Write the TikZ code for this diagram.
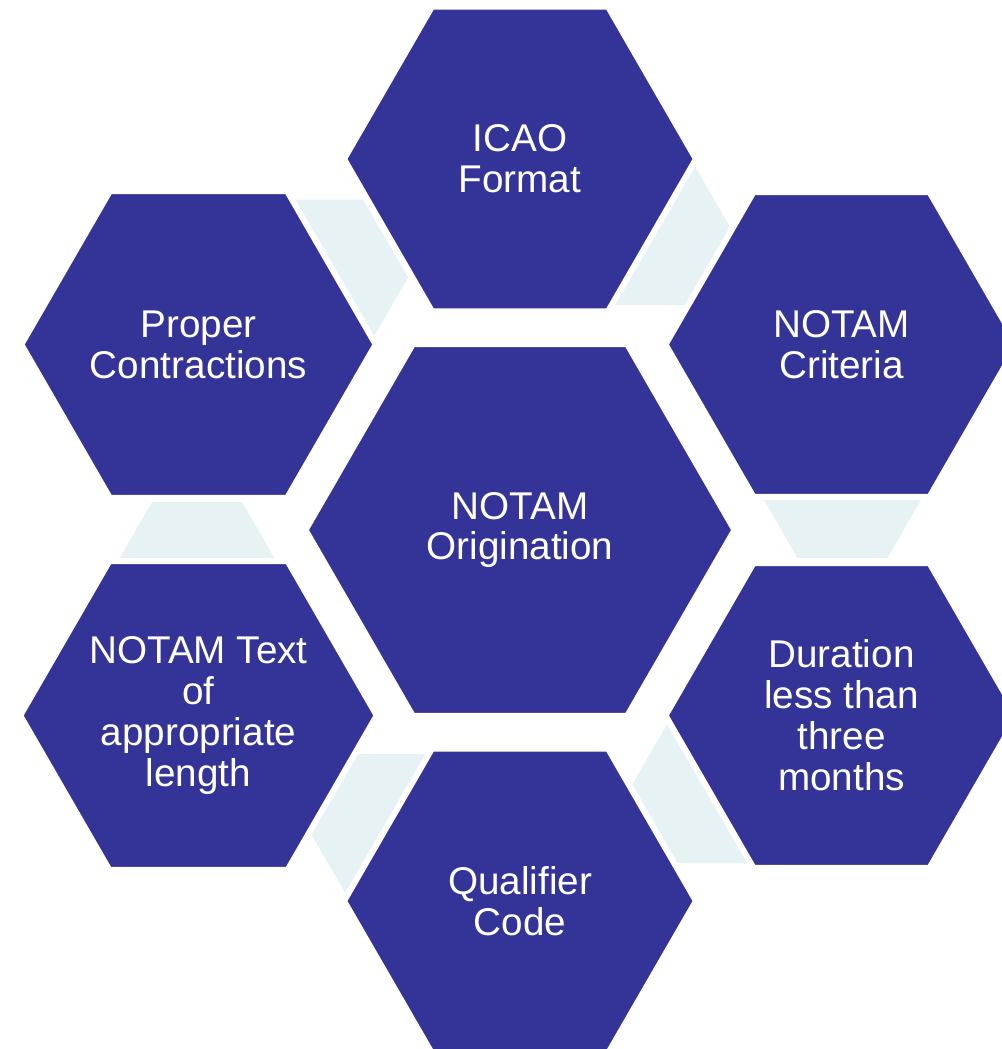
\documentclass[tikz,border=0pt]{standalone}
\usepackage{fontspec}
\setmainfont{Liberation Sans}
\usetikzlibrary{shapes.geometric}
\definecolor{hexblue}{RGB}{52,52,152}
\definecolor{linkcyan}{RGB}{230,242,244}
\begin{document}
\begin{tikzpicture}[
  hexa/.style={regular polygon, regular polygon sides=6, fill=hexblue,
               draw=white, line width=0.12cm, minimum size=#1, inner sep=0pt,
               text=white, align=center, font=\fontsize{22}{23.3}\selectfont},
  hexa/.default=7.04cm,
  link/.style={regular polygon, regular polygon sides=6, fill=linkcyan,
               minimum size=3.6cm, inner sep=0pt}
]
  \useasboundingbox (0,0) rectangle (20.04,-20.98);

  % Links between the outer cells
  \node[link] (l1) at (16.85,-9.60) {};
  \node[link] (l2) at (12.80,-4.54) {};
  \node[link] (l3) at (6.36,-5.55) {};
  \node[link] (l4) at (3.94,-11.60) {};
  \node[link] (l5) at (8.00,-16.64) {};
  \node[link] (l6) at (14.44,-15.70) {};

  % Cells
  \node[hexa=8.58cm] (hub) at (10.40,-10.60) {NOTAM\\Origination};
  \node[hexa] (icao) at (10.40,-3.18) {ICAO\\Format};
  \node[hexa] (criteria) at (16.83,-6.89) {NOTAM\\Criteria};
  \node[hexa] (duration) at (16.83,-14.31) {Duration\\less than\\three\\months};
  \node[hexa] (qualifier) at (10.40,-18.02) {Qualifier\\Code};
  \node[hexa] (text) at (3.97,-14.31) {NOTAM Text\\of\\appropriate\\length};
  \node[hexa] (contractions) at (3.97,-6.89) {Proper\\Contractions};
\end{tikzpicture}
\end{document}
